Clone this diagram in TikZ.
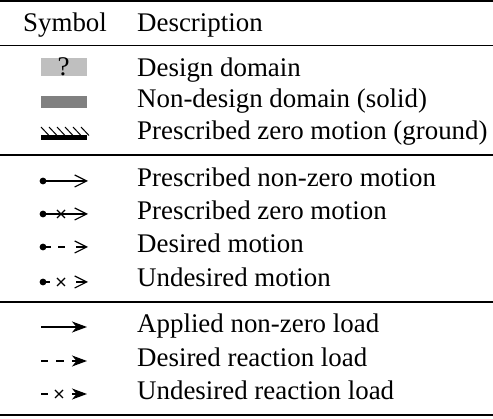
\documentclass[tikz,border=0pt]{standalone}
\usepackage{fontspec}
\setmainfont{Liberation Serif}
\usetikzlibrary{arrows.meta,calc}
\tikzset{
  x=1pt, y=-1pt,
  txt/.style={anchor=base west, inner sep=0pt, font=\fontsize{26.9}{32}\selectfont},
  rulethick/.style={line width=1.9pt},
  rulethin/.style={line width=1.2pt},
  sym/.style={line width=1.3pt},
  motiontip/.style={-{Straight Barb[length=12pt,width=12pt,line width=1.2pt]}},
  loadtip/.style={-{Stealth[length=15pt,width=11pt,inset=4.5pt]}},
}
\newcommand{\crossmark}[1]{%
  \draw[sym] ($(#1)+(-4,-4)$) -- ($(#1)+(4,4)$) ($(#1)+(-4,4)$) -- ($(#1)+(4,-4)$);}
\begin{document}
\begin{tikzpicture}
\useasboundingbox (0,0) rectangle (493,419);
% rules
\draw[rulethick] (0,1) -- (493,1);
\draw[rulethin] (0,45.5) -- (493,45.5);
\draw[rulethin] (0,155) -- (493,155);
\draw[rulethin] (0,302) -- (493,302);
\draw[rulethick] (0,415) -- (493,415);
% header
\node[txt] (hsym) at (23,32) {Symbol};
\node[txt] (hdesc) at (137,32) {Description};
% domain symbols
\fill[black!25] (41,58) rectangle (87,76);
\node[font=\fontsize{27}{32}\selectfont, inner sep=0pt, anchor=base] (q) at (63.5,75.5) {?};
\fill[black!50] (41,96) rectangle (87,108);
\fill[black] (41,135.5) rectangle (87,140);
\foreach \i in {0,...,5} {
  \draw[line width=1pt] (41+8*\i,127) -- (41+8*\i+8,135.5);
}
\node[txt] (d1) at (137,77) {Design domain};
\node[txt] (d2) at (137,108) {Non-design domain (solid)};
\node[txt] (d3) at (137,140) {Prescribed zero motion (ground)};
% motion symbols
\coordinate (m1a) at (43,181); \coordinate (m1b) at (88,181);
\draw[sym, motiontip] (m1a) -- (m1b);
\fill (m1a) circle (3.4pt);
\coordinate (m2a) at (43,214); \coordinate (m2b) at (88,214);
\draw[sym, motiontip] (m2a) -- (m2b);
\fill (m2a) circle (3.4pt);
\crossmark{61,214}
\coordinate (m3a) at (43,247); \coordinate (m3b) at (88,247);
\draw[sym] (m3a) -- (51,247) (58,247) -- (65,247);
\draw[sym, motiontip] (76,247) -- (m3b);
\fill (m3a) circle (3.4pt);
\coordinate (m4a) at (43,282); \coordinate (m4b) at (88,282);
\draw[sym] (m4a) -- (50,282);
\crossmark{61,282}
\draw[sym, motiontip] (76,282) -- (m4b);
\fill (m4a) circle (3.4pt);
\node[txt] (d4) at (137,187) {Prescribed non-zero motion};
\node[txt] (d5) at (137,220) {Prescribed zero motion};
\node[txt] (d6) at (137,253) {Desired motion};
\node[txt] (d7) at (137,287) {Undesired motion};
% load symbols
\coordinate (l1a) at (41,327); \coordinate (l1b) at (87,327);
\draw[sym, loadtip] (l1a) -- (l1b);
\coordinate (l2a) at (41,361); \coordinate (l2b) at (87,361);
\draw[sym] (l2a) -- (48,361) (56,361) -- (64,361);
\draw[sym, loadtip] (72,361) -- (l2b);
\coordinate (l3a) at (41,394); \coordinate (l3b) at (87,394);
\draw[sym] (l3a) -- (48,394);
\crossmark{59,394}
\draw[sym, loadtip] (72,394) -- (l3b);
\node[txt] (d8) at (137,333) {Applied non-zero load};
\node[txt] (d9) at (137,367) {Desired reaction load};
\node[txt] (d10) at (137,400) {Undesired reaction load};
\end{tikzpicture}
\end{document}
